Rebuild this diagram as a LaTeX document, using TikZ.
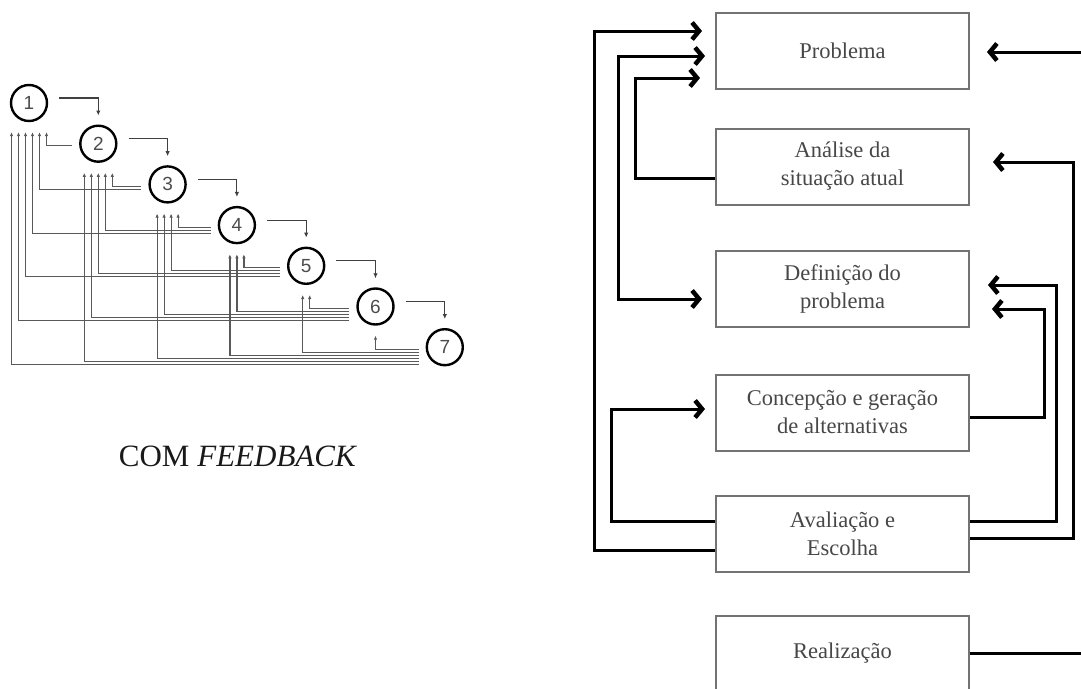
\documentclass[tikz,border=0pt]{standalone}
\usepackage{fontspec}
\setmainfont{Liberation Serif}
\setsansfont{Liberation Sans}
\usetikzlibrary{arrows.meta,calc}
\begin{document}
\begin{tikzpicture}[x=1pt,y=-1pt,
  >={Straight Barb[length=7pt,width=17pt,line width=4.5pt]},
  box/.style={draw=black!55, line width=2pt, minimum width=253pt, minimum height=76pt, inner sep=0pt, align=center, text=black!72, font=\fontsize{22.5}{28}\selectfont},
  fb/.style={line width=3pt, black, ->},
  fbb/.style={line width=3pt, black, <->},
  circ/.style={circle, draw=black, line width=2.4pt, minimum size=36pt, inner sep=0pt, text=black!70, font=\sffamily\fontsize{19}{19}\selectfont},
  fwd/.style={draw=black!75, line width=1.1pt, -{Latex[length=5pt,width=4.5pt]}},
  fbl/.style={draw=black!65, line width=1.2pt, -{Latex[length=4pt,width=3.5pt]}},
]
\useasboundingbox (0,0) rectangle (1081,688);
\clip (0,0) rectangle (1081,688);

% ---------- left diagram ----------
\foreach \k in {1,...,7}{
  \node[circ] (c\k) at ({29+69.3*(\k-1)},{103+40.7*(\k-1)}) {\k};
}
\foreach \i in {1,...,6}{
  \pgfmathtruncatemacro\first{\i+1}
  \foreach \k in {\first,...,7}{
    \pgfmathsetmacro\off{(7-\k-(6-\i)/2)*7}
    \pgfmathsetmacro\lev{2+3*(\k-1-\i)}
    \draw[fbl] ([xshift=-7pt,yshift=-\lev pt]c\k.west) -| ([xshift=\off pt,yshift=-10pt]c\i.south);
  }
}
\foreach \k [evaluate=\k as \n using int(\k+1)] in {1,...,6}{
  \draw[fwd] ([xshift=11pt,yshift=5pt]c\k.east) -| ([yshift=9pt]c\n.north);
}
\node[font=\fontsize{31}{31}\selectfont, text=black!90] (lbl) at (238,456) {COM \textit{FEEDBACK}};

% ---------- right diagram ----------
\node[box] (prob) at (842.5,50.5) {Problema};
\node[box] (anal) at (842.5,166.5) {Análise da\\situação atual};
\node[box] (def)  at (842.5,288.5) {Definição do\\problema};
\node[box] (conc) at (842.5,412.5) {Concepção e geração\\de alternativas};
\node[box] (aval) at (842.5,534) {Avaliação e\\Escolha};
\node[box] (real) at (842.5,653.5) {Realização};

\draw[fb]  ([yshift=-16pt]aval.west) -- ++(-121,0) |- ([xshift=-13pt,yshift=19.5pt]prob.west);
\draw[fbb] ([xshift=-10pt,yshift=-5.5pt]prob.west) -- ++(-87,0) |- ([xshift=-13pt,yshift=-10.5pt]def.west);
\draw[fb]  ([yshift=-11.5pt]anal.west) -- ++(-80,0) |- ([xshift=-15pt,yshift=-27.5pt]prob.west);
\draw[fb]  ([yshift=13pt]aval.west) -- ++(-104,0) |- ([xshift=-10pt,yshift=3.5pt]conc.west);

\coordinate (rin) at (1085,52);
\coordinate (rout) at (1085,653.5);
\draw[fb] (rin) -- ([xshift=17pt,yshift=-1.5pt]prob.east);
\draw[fb] ([yshift=-4pt]aval.east) -- ++(103,0) |- ([xshift=23pt,yshift=4.5pt]anal.east);
\draw[fb] ([yshift=13pt]aval.east) -- ++(86,0) |- ([xshift=18pt,yshift=3.5pt]def.east);
\draw[fb] ([yshift=-4.5pt]conc.east) -- ++(74,0) |- ([xshift=22pt,yshift=-20.5pt]def.east);
\draw[line width=3pt] (real.east) -- (rout);
\end{tikzpicture}
\end{document}
